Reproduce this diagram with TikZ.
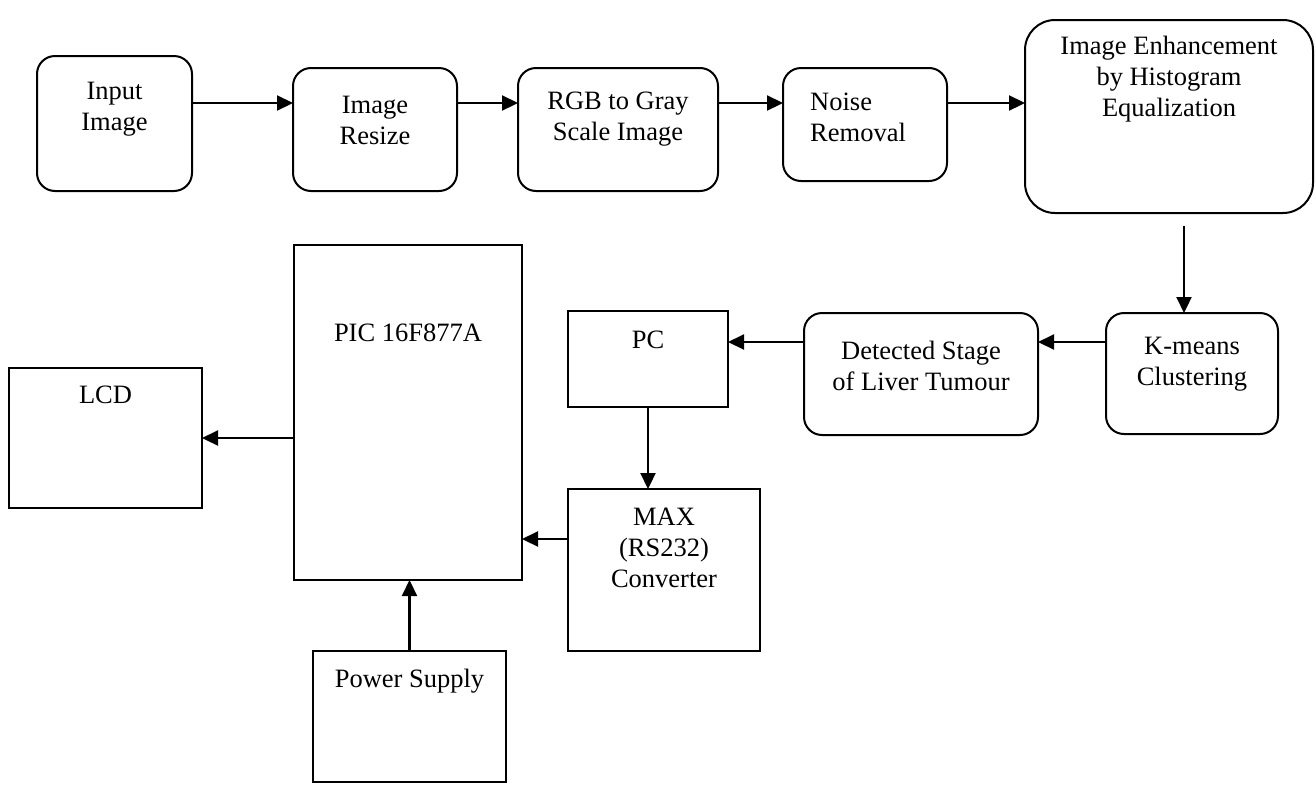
\documentclass[tikz,border=0pt]{standalone}
\usepackage{fontspec}
\setmainfont{Liberation Serif}
\usepackage{tikz}
\usetikzlibrary{arrows.meta}

\tikzset{
  rbox/.style={draw,line width=2pt,rounded corners=18pt,inner sep=0pt,outer sep=0pt},
  sbox/.style={draw,line width=2pt,inner sep=0pt,outer sep=0pt},
  txt/.style={align=center,inner sep=0pt,font=\fontsize{26.5}{31}\selectfont},
  arr/.style={line width=2.2pt,-{Triangle[length=16pt,width=15pt]}}
}

\begin{document}
\begin{tikzpicture}[x=1pt,y=-1pt]
  \useasboundingbox (0,0) rectangle (1316,785);

  \node[rbox,minimum width=155pt,minimum height=135pt] (inp) at (114.5,123.5) {};
  \node[rbox,minimum width=164pt,minimum height=123pt] (res) at (375,129.5) {};
  \node[rbox,minimum width=200pt,minimum height=123pt] (rgb) at (618,129.5) {};
  \node[rbox,minimum width=164pt,minimum height=113pt] (noise) at (865,124.5) {};
  \node[rbox,rounded corners=30pt,minimum width=288pt,minimum height=193pt] (enh) at (1169,116.5) {};
  \node[rbox,minimum width=172pt,minimum height=121pt] (km) at (1192,373.5) {};
  \node[rbox,minimum width=234pt,minimum height=122pt] (det) at (921,374) {};
  \node[sbox,minimum width=160pt,minimum height=96pt] (pc) at (648,359) {};
  \node[sbox,minimum width=192pt,minimum height=162pt] (max) at (664,570) {};
  \node[sbox,minimum width=228pt,minimum height=335pt] (pic) at (408,412.5) {};
  \node[sbox,minimum width=193pt,minimum height=140pt] (lcd) at (105.5,438) {};
  \node[sbox,minimum width=193pt,minimum height=131pt] (pow) at (409.5,716.5) {};

  \node[txt] (inpT) at (114.5,109) {Input\\Image};
  \node[txt] (resT) at (375,120) {Image\\Resize};
  \node[txt] (rgbT) at (618,119) {RGB to Gray\\Scale Image};
  \node[txt,align=left,anchor=west] (noiseT) at (810,117) {Noise\\Removal};
  \node[txt] (enhT) at (1169,79) {Image Enhancement\\by Histogram\\Equalization};
  \node[txt] (kmT) at (1192,364) {K-means\\Clustering};
  \node[txt] (detT) at (921,366) {Detected Stage\\of Liver Tumour};
  \node[txt] (pcT) at (648,340) {PC};
  \node[txt] (maxT) at (664,548) {MAX\\(RS232)\\Converter};
  \node[txt] (picT) at (408,333) {PIC 16F877A};
  \node[txt] (lcdT) at (105.5,395) {LCD};
  \node[txt] (powT) at (409.5,681) {Power Supply};

  \coordinate (row) at (0,103);
  \coordinate (kdrop) at (1184,226);
  \coordinate (back) at (0,342);
  \coordinate (low) at (0,539);

  \draw[arr] (inp.east |- row) -- (res.west |- row);
  \draw[arr] (res.east |- row) -- (rgb.west |- row);
  \draw[arr] (rgb.east |- row) -- (noise.west |- row);
  \draw[arr] (noise.east |- row) -- (enh.west |- row);
  \draw[arr] (kdrop) -- (kdrop |- km.north);
  \draw[arr] (km.west |- back) -- (det.east |- back);
  \draw[arr] (det.west |- back) -- (pc.east |- back);
  \draw[arr] (pc.south) -- (pc.south |- max.north);
  \draw[arr] (max.west |- low) -- (pic.east |- low);
  \draw[arr] (pic.west |- lcd.east) -- (lcd.east);
  \draw[arr] (pow.north) -- (pow.north |- pic.south);
\end{tikzpicture}
\end{document}
